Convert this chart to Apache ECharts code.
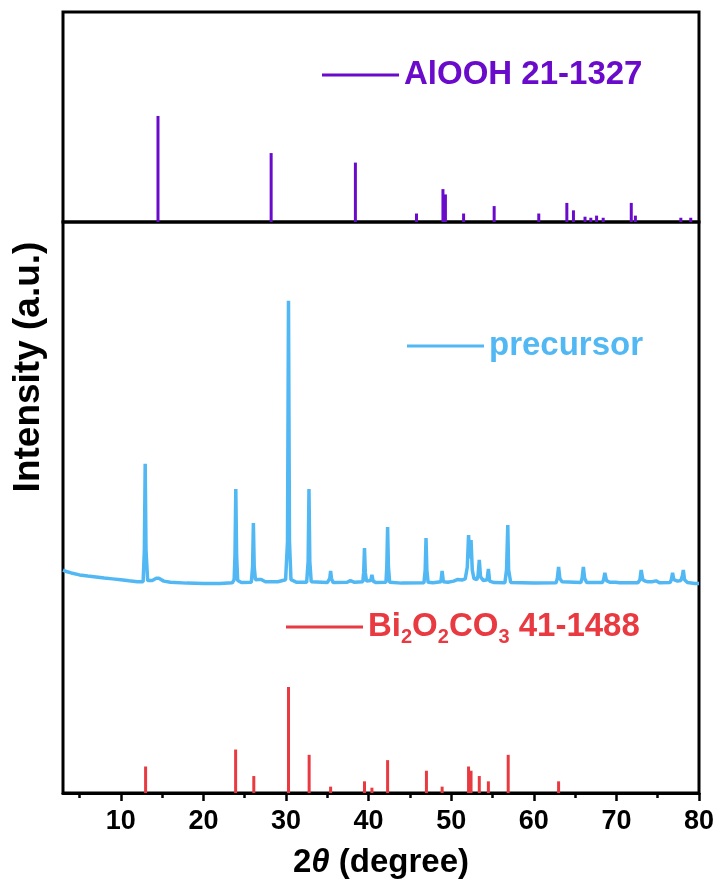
<!DOCTYPE html>
<html>
<head>
<meta charset="utf-8">
<script src="https://cdn.jsdelivr.net/npm/echarts@6/dist/echarts.min.js"></script>
<style>html,body{margin:0;padding:0;background:#fff;}#c{width:720px;height:894px;}</style>
</head>
<body>
<div id="c"></div>
<script>
// ---- Data ----
// AlOOH reference (JCPDS 21-1327): 2theta and relative intensity
var aloohTheta = [14.5, 28.2, 38.4, 45.8, 49.0, 49.3, 51.5, 55.2, 60.6, 64.0, 64.8, 66.2, 66.9, 67.6, 68.4, 71.8, 72.3, 77.8, 79.0];
var aloohInt   = [100, 65, 56, 8, 31, 26, 8, 15, 8, 18, 11, 5, 4, 6, 4, 18, 6, 4, 4];
// Bi2O2CO3 reference (JCPDS 41-1488)
var biTheta = [13.0, 23.9, 26.1, 30.3, 32.8, 35.4, 39.5, 40.4, 42.3, 47.0, 48.9, 52.1, 52.4, 53.4, 54.5, 56.9, 63.0];
var biInt   = [25, 41, 16, 100, 36, 6, 11, 5, 31, 21, 6, 25, 21, 16, 11, 36, 11];
// precursor measured pattern (normalized intensity)
var precTheta = [3.0,3.5,4,5,6,7,8,9,10,11,12,12.7,12.85,12.95,13.05,13.25,13.8,14.3,14.6,15.2,16,18,20,22,23.5,23.72,23.82,23.92,24.02,24.15,24.6,25.8,25.95,26.05,26.15,26.3,26.7,27.0,27.5,29.0,29.95,30.18,30.3,30.42,30.6,31.3,32.5,32.68,32.78,32.88,33.05,35.0,35.3,35.4,35.5,35.7,37.4,37.8,38.3,39.3,39.4,39.5,39.6,39.75,40.25,40.4,40.55,40.9,42.1,42.2,42.3,42.4,42.55,44,46.7,46.85,46.95,47.05,47.2,47.8,48.75,48.9,49.05,49.6,50.3,50.8,51.3,51.7,51.95,52.1,52.25,52.4,52.55,52.75,53.1,53.25,53.4,53.55,53.9,54.35,54.5,54.65,55.2,56.5,56.7,56.85,56.95,57.2,60,62.7,62.85,63.0,63.15,63.4,65.7,65.85,66.0,66.15,66.4,68.3,68.45,68.6,68.8,69.2,69.9,70.1,70.4,72.6,72.85,73.0,73.2,73.5,73.8,74.0,74.3,74.8,75.2,76.5,76.65,76.8,76.95,77.4,77.8,78.0,78.1,78.25,78.6,79.5,80];
var precInt   = [4.9,4.3,3.9,3.2,2.8,2.5,2.1,1.8,1.5,1.1,0.8,0.8,12,42.4,12,1.2,1.2,2.0,2.0,1.0,0.6,0.3,0.2,0.2,0.4,1.5,10,33.5,10,1.2,0.5,0.6,6,21.5,6,1.5,1.6,1.6,0.8,0.8,1.5,15,100,15,1.5,0.6,0.6,8,33.5,8,0.8,0.5,2,4.6,2,0.5,0.6,1.2,0.6,0.8,4,12.7,4,1,1.2,3.2,1.0,0.5,0.6,6,20.1,6,0.6,0.3,0.4,5,16.2,5,0.6,0.4,0.8,4.6,0.8,0.6,1.0,1.6,1.4,1.8,6,17.3,9,15.5,5,2,1.5,3,8.5,2.5,1.2,1.5,5.3,1.0,0.5,0.4,5,20.8,5,0.5,0.3,0.4,2,6.0,2,0.8,0.5,2,6.0,2,0.5,0.5,1.5,3.9,1.2,0.6,0.6,1.0,0.4,0.4,1.5,4.9,1.5,1.0,0.8,1.4,0.8,1.1,0.4,0.5,1.5,3.9,1.5,1.0,1.2,3,4.9,1.5,0.5,0.2,0.2];
var tickLabels = [10, 20, 30, 40, 50, 60, 70, 80];
var minorTicks = [5, 15, 25, 35, 45, 55, 65, 75];
var nameAl = 'AlOOH 21-1327', namePre = 'precursor', nameBi = 'Bi2O2CO3 41-1488';

// ---- Chart ----
var FONT = '"Liberation Sans", Arial, sans-serif';
var C_AL = '#6a0bcc', C_PRE = '#52b8f4', C_BI = '#e83a40';
function zip(a, b) { return a.map(function (v, i) { return [v, b[i]]; }); }
function stick(params, api) {
  var x = api.value(0), v = api.value(1);
  var p0 = api.coord([x, 0]), p1 = api.coord([x, v]);
  return { type: 'line', shape: { x1: p0[0], y1: p0[1], x2: p1[0], y2: p1[1] },
           style: { stroke: api.visual('color'), lineWidth: 3 } };
}
var chart = echarts.init(document.getElementById('c'), null, { renderer: 'canvas' });
var legendBase = { orient: 'horizontal', icon: 'rect', itemWidth: 77, itemHeight: 3, selectedMode: false, padding: 5 };
chart.setOption({
  backgroundColor: '#fff',
  animation: false,
  grid: [
    { left: 63, right: 21, top: 12, height: 210, show: true, borderColor: '#000', borderWidth: 3 },
    { left: 63, right: 21, top: 222, bottom: 101, show: true, borderColor: '#000', borderWidth: 3 }
  ],
  xAxis: [
    { type: 'value', gridIndex: 0, min: 3, max: 80, axisLine: { show: false }, axisTick: { show: false }, axisLabel: { show: false }, splitLine: { show: false } },
    { type: 'value', gridIndex: 1, min: 3, max: 80, position: 'bottom',
      axisLine: { show: true, onZero: false, lineStyle: { color: '#000', width: 3 } },
      axisTick: { show: true, inside: false, length: 8, lineStyle: { color: '#000', width: 2.5 }, customValues: tickLabels },
      axisLabel: { show: true, margin: 15, color: '#000', fontSize: 27, fontWeight: 'bold', fontFamily: FONT, customValues: tickLabels },
      splitLine: { show: false },
      name: '2{i|θ} (degree)', nameLocation: 'middle', nameGap: 53,
      nameTextStyle: { color: '#000', fontSize: 33, fontWeight: 'bold', fontFamily: FONT,
        rich: { i: { fontStyle: 'italic', fontWeight: 'bold', fontSize: 33, fontFamily: FONT, color: '#000' } } } },
    { type: 'value', gridIndex: 1, min: 3, max: 80, position: 'bottom',
      axisLine: { show: false },
      axisTick: { show: true, inside: false, length: 5, lineStyle: { color: '#000', width: 2.5 }, customValues: minorTicks },
      axisLabel: { show: false }, splitLine: { show: false } }
  ],
  yAxis: [
    { type: 'value', gridIndex: 0, min: 0, max: 198, show: false },
    { type: 'value', gridIndex: 1, min: 0, max: 538.7, show: false },
    { type: 'value', gridIndex: 1, min: -73.8, max: 127.8, show: false }
  ],
  legend: [
    Object.assign({}, legendBase, { data: [nameAl], left: 317, top: 50,
      textStyle: { color: C_AL, fontSize: 33, fontWeight: 'bold', fontFamily: FONT, lineHeight: 40 } }),
    Object.assign({}, legendBase, { data: [namePre], left: 402, top: 321,
      textStyle: { color: C_PRE, fontSize: 33, fontWeight: 'bold', fontFamily: FONT, lineHeight: 40 } }),
    Object.assign({}, legendBase, { data: [nameBi], left: 281, top: 602,
      formatter: function () { return '{m|Bi}{s|2}{m|O}{s|2}{m|CO}{s|3}{m| 41-1488}'; },
      textStyle: { color: C_BI, fontSize: 33, fontWeight: 'bold', fontFamily: FONT, lineHeight: 40,
        rich: {
          m: { color: C_BI, fontSize: 33, fontWeight: 'bold', fontFamily: FONT, lineHeight: 40 },
          s: { color: C_BI, fontSize: 20, fontWeight: 'bold', fontFamily: FONT, lineHeight: 14, verticalAlign: 'bottom' }
        } } })
  ],
  graphic: [
    { type: 'text', x: 29, y: 367, rotation: Math.PI / 2,
      style: { text: 'Intensity (a.u.)', fill: '#000', fontSize: 37, fontWeight: 'bold', fontFamily: FONT, align: 'center', verticalAlign: 'middle' } }
  ],
  series: [
    { name: nameAl, type: 'custom', xAxisIndex: 0, yAxisIndex: 0, renderItem: stick, itemStyle: { color: C_AL }, data: zip(aloohTheta, aloohInt) },
    { name: namePre, type: 'line', xAxisIndex: 1, yAxisIndex: 2, showSymbol: false, symbol: 'none', smooth: false,
      lineStyle: { color: C_PRE, width: 3.5 }, itemStyle: { color: C_PRE }, data: zip(precTheta, precInt) },
    { name: nameBi, type: 'custom', xAxisIndex: 1, yAxisIndex: 1, renderItem: stick, itemStyle: { color: C_BI }, data: zip(biTheta, biInt) }
  ]
});
</script>
</body>
</html>
